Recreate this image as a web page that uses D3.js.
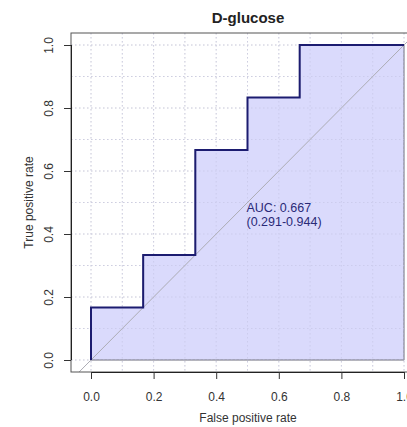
<!DOCTYPE html>
<html>
<head>
<meta charset="utf-8">
<script src="https://cdn.jsdelivr.net/npm/d3@7"></script>
<style>
  html, body { margin: 0; padding: 0; background: #fff; }
  svg { display: block; font-family: "Liberation Sans", Arial, sans-serif; }
</style>
</head>
<body>
<svg id="chart" width="407" height="427"></svg>
<script>
// ROC curve for D-glucose: step points (false positive rate, true positive rate)
const fpr = [0, 0, 0.1667, 0.1667, 0.3333, 0.3333, 0.5, 0.5, 0.6667, 0.6667, 1];
const tpr = [0, 0.1667, 0.1667, 0.3333, 0.3333, 0.6667, 0.6667, 0.8333, 0.8333, 1, 1];
const xTicks = [0, 0.2, 0.4, 0.6, 0.8, 1.0];
const yTicks = [0, 0.2, 0.4, 0.6, 0.8, 1.0];
const gridSteps = [0, 0.1, 0.2, 0.3, 0.4, 0.5, 0.6, 0.7, 0.8, 0.9, 1.0];
const aucText = ["AUC: 0.667", "(0.291-0.944)"];
const titleText = "D-glucose";

const svg = d3.select("#chart");
const FONT = "Liberation Sans, Arial, sans-serif";

// plotting region (box) and data mapping
const box = { left: 71, top: 33, right: 430, bottom: 372 };
const x = d3.scaleLinear().domain([0, 1]).range([91, 404]);
const y = d3.scaleLinear().domain([0, 1]).range([360, 45]);

svg.append("defs").append("clipPath").attr("id", "plotclip")
  .append("rect")
  .attr("x", box.left).attr("y", box.top)
  .attr("width", box.right - box.left).attr("height", box.bottom - box.top);

const plot = svg.append("g").attr("clip-path", "url(#plotclip)");

function drawGrid(color, opacity) {
  const g = plot.append("g").attr("opacity", opacity);
  g.selectAll("line.gx").data(gridSteps).join("line")
    .attr("x1", d => x(d)).attr("x2", d => x(d))
    .attr("y1", box.top).attr("y2", box.bottom)
    .attr("stroke", color).attr("stroke-width", 1)
    .attr("stroke-dasharray", "1.5,2.5");
  g.selectAll("line.gy").data(gridSteps).join("line")
    .attr("y1", d => y(d)).attr("y2", d => y(d))
    .attr("x1", box.left).attr("x2", box.right)
    .attr("stroke", color).attr("stroke-width", 1)
    .attr("stroke-dasharray", "1.5,2.5");
}

// dotted grid every 0.1
drawGrid("#dedede", 1);

// area under the curve
const pts = fpr.map((f, i) => [f, tpr[i]]);
const polyPts = pts.concat([[1, 0]]);
plot.append("path")
  .attr("d", d3.line().x(d => x(d[0])).y(d => y(d[1]))(polyPts) + "Z")
  .attr("fill", "#dadafc")
  .attr("stroke", "#6e6e78")
  .attr("stroke-width", 1);

// grid faintly visible through the filled area
drawGrid("#c4c4e4", 0.6);

// chance diagonal
plot.append("line")
  .attr("x1", x(-0.2)).attr("y1", y(-0.2))
  .attr("x2", x(1.2)).attr("y2", y(1.2))
  .attr("stroke", "#acacb4").attr("stroke-width", 1);

// ROC curve
plot.append("path")
  .attr("d", d3.line().x(d => x(d[0])).y(d => y(d[1]))(pts))
  .attr("fill", "none")
  .attr("stroke", "#1c1c70")
  .attr("stroke-width", 2);

// box
svg.append("rect")
  .attr("x", box.left).attr("y", box.top)
  .attr("width", box.right - box.left).attr("height", box.bottom - box.top)
  .attr("fill", "none").attr("stroke", "#555").attr("stroke-width", 1);

// x axis
const xAxis = svg.append("g").attr("transform", `translate(0,${box.bottom})`)
  .call(d3.axisBottom(x).tickValues(xTicks).tickSize(7).tickPadding(13)
    .tickFormat(d3.format(".1f")));
xAxis.select(".domain").attr("d", `M${x(0)},0.5H${x(1)}`).attr("stroke", "#222");
xAxis.selectAll(".tick line").attr("stroke", "#333");
xAxis.selectAll("text").attr("font-size", 12).attr("fill", "#333")
  .attr("font-family", FONT);

// y axis, labels rotated parallel to the axis
const yAxis = svg.append("g").attr("transform", `translate(${box.left},0)`)
  .call(d3.axisLeft(y).tickValues(yTicks).tickSize(7).tickFormat(d3.format(".1f")));
yAxis.select(".domain").attr("d", `M0.5,${y(0)}V${y(1)}`).attr("stroke", "#222");
yAxis.selectAll(".tick line").attr("stroke", "#333");
yAxis.selectAll(".tick text")
  .attr("x", null)
  .attr("text-anchor", "middle")
  .attr("transform", "translate(-22,0) rotate(-90)")
  .attr("dy", "0.35em")
  .attr("font-size", 12).attr("fill", "#333")
  .attr("font-family", FONT);

// AUC annotation
const ann = svg.append("text")
  .attr("x", x(0.5) - 1).attr("y", y(0.47))
  .attr("font-size", 12.5).attr("fill", "#2a2a78");
ann.selectAll("tspan").data(aucText).join("tspan")
  .attr("x", x(0.5) - 1)
  .attr("dy", (d, i) => i === 0 ? "0em" : "1.15em")
  .text(d => d);

// title and axis titles
svg.append("text")
  .attr("x", 248).attr("y", 23)
  .attr("text-anchor", "middle")
  .attr("font-size", 15).attr("font-weight", "bold").attr("fill", "#222")
  .text(titleText);

svg.append("text")
  .attr("x", 248).attr("y", 422)
  .attr("text-anchor", "middle")
  .attr("font-size", 12).attr("fill", "#333")
  .text("False positive rate");

svg.append("text")
  .attr("transform", `translate(33,${(box.top + box.bottom) / 2}) rotate(-90)`)
  .attr("text-anchor", "middle")
  .attr("font-size", 12).attr("fill", "#333")
  .text("True positive rate");
</script>
</body>
</html>
